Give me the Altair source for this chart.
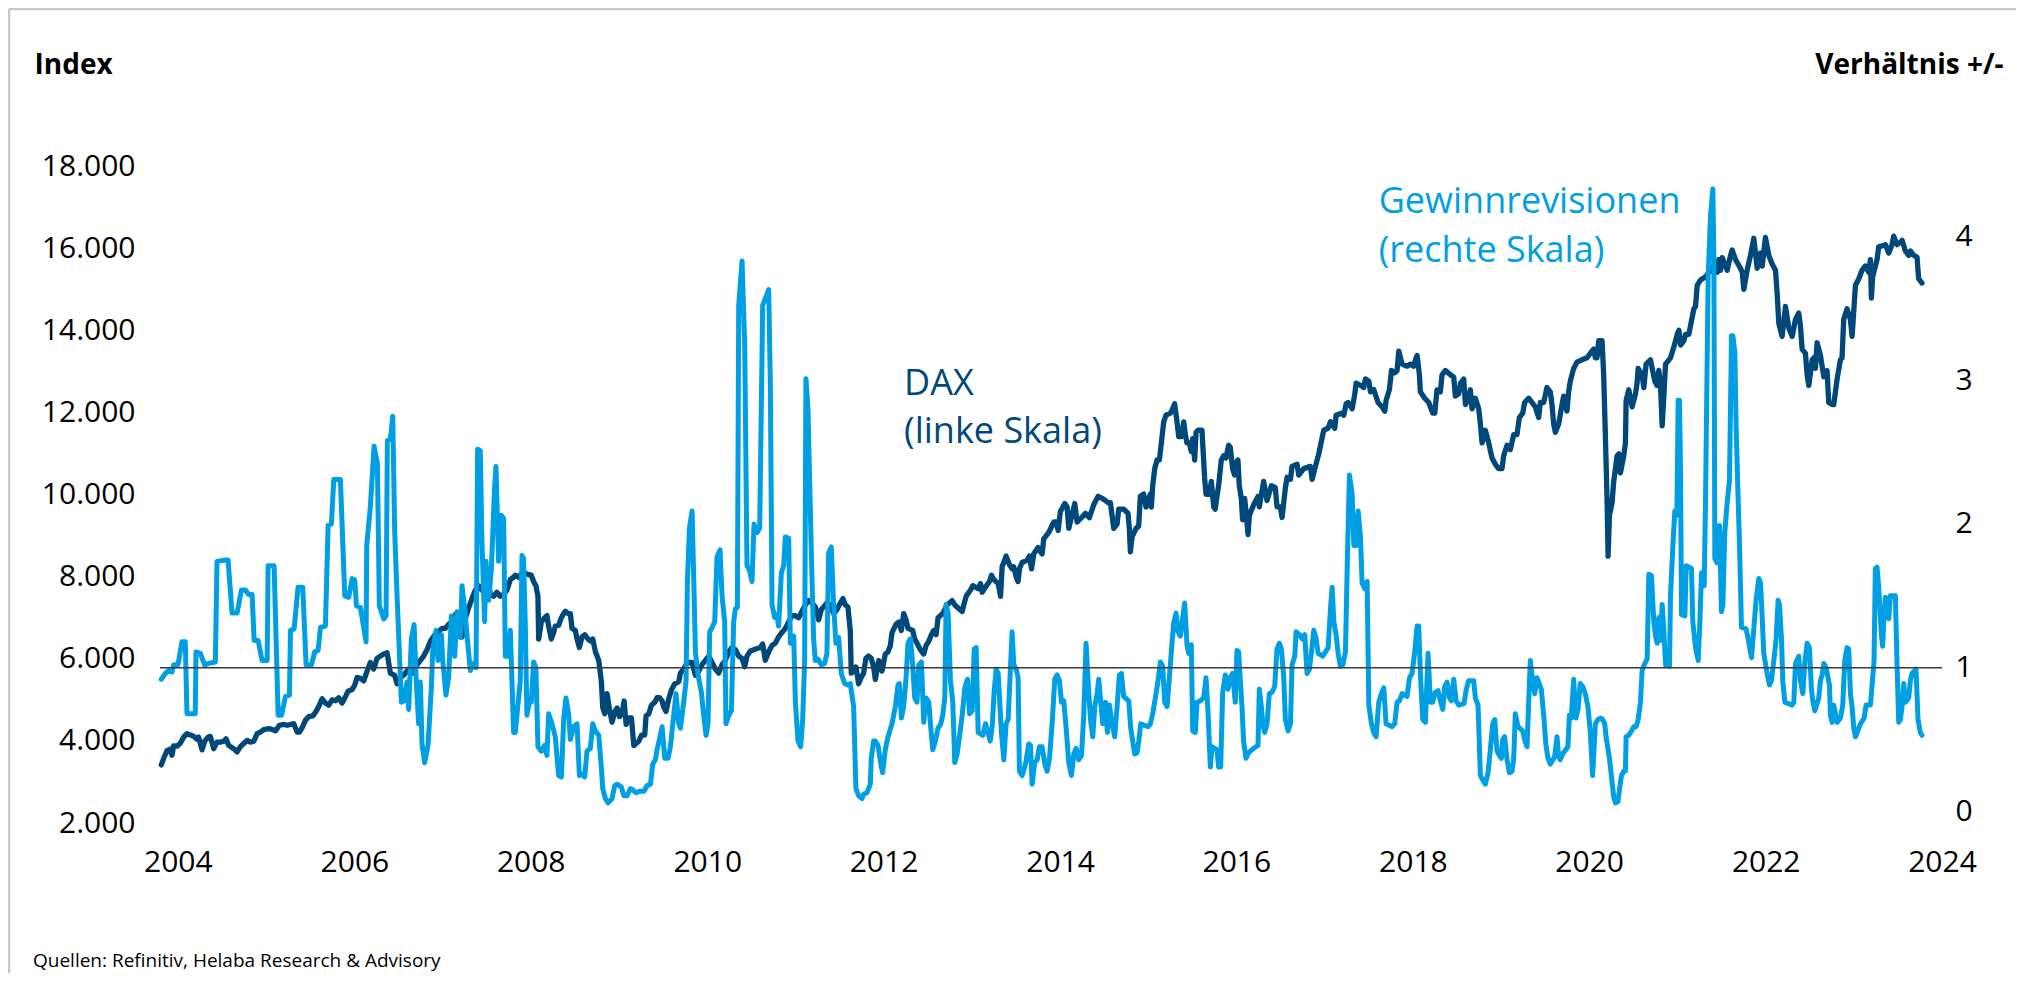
import altair as alt
import pandas as pd
from datetime import datetime, timedelta

FONT = "Open Sans"
DAX_COLOR = "#00477A"
REV_COLOR = "#009FE3"

# ---------------- data (decimal years) ----------------
DAX_T = [
2003.812,2003.838,2003.876,2003.914,2003.933,2003.952,2003.990,2004.027,2004.065,2004.103,2004.141,2004.179,2004.216,2004.235,
2004.273,2004.303,2004.341,2004.367,2004.405,2004.443,2004.481,2004.519,2004.545,2004.575,2004.632,2004.670,2004.708,2004.745,
2004.783,2004.821,2004.859,2004.897,2004.934,2004.972,2005.029,2005.067,2005.104,2005.150,2005.199,2005.237,2005.275,2005.312,
2005.350,2005.377,2005.407,2005.445,2005.482,2005.528,2005.558,2005.596,2005.634,2005.671,2005.709,2005.747,2005.785,2005.822,
2005.860,2005.898,2005.928,2005.974,2006.004,2006.030,2006.068,2006.106,2006.144,2006.181,2006.219,2006.257,2006.295,2006.333,
2006.370,2006.389,2006.408,2006.457,2006.484,2006.522,2006.560,2006.616,2006.654,2006.711,2006.748,2006.786,2006.824,2006.862,
2006.911,2006.956,2006.994,2007.032,2007.070,2007.107,2007.145,2007.183,2007.221,2007.259,2007.296,2007.334,2007.372,2007.410,
2007.447,2007.485,2007.523,2007.542,2007.580,2007.617,2007.655,2007.693,2007.731,2007.769,2007.806,
2007.825,2007.863,2007.901,2007.938,2007.976,2008.006,2008.033,2008.059,2008.082,2008.090,2008.120,2008.158,2008.184,2008.203,
2008.233,2008.260,2008.278,2008.316,2008.347,2008.373,2008.392,2008.422,2008.449,2008.467,2008.505,2008.524,2008.551,2008.581,
2008.611,2008.649,2008.675,2008.702,2008.732,2008.770,2008.800,2008.815,2008.838,2008.864,2008.891,2008.921,2008.951,2008.978,
2009.004,2009.034,2009.057,2009.080,2009.110,2009.140,2009.167,2009.193,2009.223,2009.254,2009.291,2009.306,2009.337,2009.367,
2009.405,2009.431,2009.457,2009.488,2009.507,2009.533,2009.563,2009.594,2009.631,2009.677,2009.696,2009.733,2009.760,2009.790,
2009.828,2009.866,2009.903,2009.941,2009.979,2010.017,2010.055,2010.092,2010.130,2010.168,2010.206,2010.244,2010.281,2010.319,
2010.357,2010.395,2010.425,2010.451,2010.489,2010.527,2010.565,2010.603,2010.629,2010.659,2010.697,2010.735,2010.772,2010.810,
2010.848,2010.886,2010.924,2010.962,2011.000,2011.037,2011.075,2011.113,2011.151,2011.188,2011.226,2011.264,2011.294,2011.321,
2011.358,2011.396,2011.434,2011.472,2011.510,2011.540,2011.566,2011.596,2011.623,2011.634,2011.661,2011.687,2011.717,2011.747,
2011.774,2011.800,2011.830,2011.861,2011.887,
2011.907,2011.945,2011.983,2012.020,2012.051,2012.077,2012.096,2012.141,2012.172,2012.202,2012.228,2012.255,2012.277,2012.330,
2012.353,2012.379,2012.417,2012.455,2012.481,2012.512,2012.542,2012.568,2012.595,2012.617,2012.670,2012.719,2012.776,2012.806,
2012.859,2012.890,2012.908,2012.935,2012.984,2013.010,2013.071,2013.097,2013.116,2013.147,2013.199,2013.222,2013.248,2013.298,
2013.325,2013.343,2013.388,2013.426,2013.456,2013.475,2013.502,2013.524,2013.539,2013.570,2013.627,2013.653,2013.676,2013.702,
2013.751,2013.778,2013.797,2013.815,2013.872,2013.929,2013.955,2013.978,2014.004,2014.054,2014.080,2014.099,2014.145,2014.167,
2014.193,2014.243,2014.288,2014.333,2014.382,2014.431,2014.484,2014.545,2014.571,2014.590,2014.609,2014.647,2014.666,2014.722,
2014.771,2014.786,2014.798,2014.817,2014.862,2014.892,2014.911,2014.949,2014.975,2015.025,2015.036,2015.051,2015.074,2015.100,
2015.127,2015.149,2015.176,2015.202,2015.251,2015.278,2015.300,2015.327,2015.346,2015.376,2015.403,2015.421,2015.440,2015.467,
2015.489,2015.505,2015.527,2015.543,2015.565,2015.591,2015.610,2015.641,2015.656,2015.694,2015.716,2015.743,2015.761,2015.780,
2015.799,2015.829,2015.856,2015.882,2015.912,2015.931,2015.958,2015.980,
2015.988,2016.018,2016.033,2016.056,2016.071,2016.094,2016.109,2016.132,2016.147,2016.196,2016.245,2016.260,2016.309,2016.347,
2016.396,2016.441,2016.460,2016.498,2016.517,2016.555,2016.574,2016.612,2016.630,2016.687,2016.706,2016.763,2016.838,2016.857,
2016.895,2016.933,2016.963,2016.989,2017.039,2017.065,2017.114,2017.129,2017.190,2017.216,2017.243,2017.265,2017.311,2017.341,
2017.356,2017.405,2017.443,2017.462,2017.500,2017.519,2017.556,2017.605,2017.651,2017.681,2017.696,2017.734,2017.757,2017.794,
2017.821,2017.840,2017.878,2017.934,2017.972,2018.010,2018.029,2018.048,2018.074,2018.085,2018.134,2018.180,2018.225,2018.248,
2018.274,2018.312,2018.331,2018.369,2018.426,2018.463,2018.482,2018.520,2018.539,2018.577,2018.596,2018.633,2018.652,2018.671,
2018.709,2018.747,2018.766,2018.785,2018.822,2018.860,2018.898,2018.936,2018.973,2019.011,2019.030,2019.068,2019.106,2019.144,
2019.181,2019.208,2019.246,2019.268,2019.314,2019.351,2019.389,2019.427,2019.446,2019.484,2019.521,2019.559,2019.578,2019.597,
2019.616,2019.654,2019.692,2019.710,2019.748,2019.767,2019.786,2019.824,2019.862,2019.918,2019.975,2020.013,2020.051,
2020.070,2020.089,2020.108,2020.146,2020.164,2020.183,2020.202,2020.214,2020.229,2020.259,2020.278,2020.316,2020.335,2020.353,
2020.391,2020.410,2020.418,2020.448,2020.486,2020.524,2020.542,2020.554,2020.599,2020.618,2020.644,2020.693,2020.743,2020.769,
2020.788,2020.807,2020.826,2020.845,2020.864,2020.920,2020.958,2020.996,2021.015,2021.034,2021.071,2021.090,2021.128,2021.147,
2021.185,2021.204,2021.223,2021.260,2021.317,2021.374,2021.412,2021.449,2021.468,2021.487,2021.506,2021.563,2021.601,2021.619,
2021.657,2021.714,2021.733,2021.752,2021.789,2021.827,2021.865,2021.884,2021.903,2021.941,2021.960,2021.997,2022.035,2022.073,
2022.111,2022.130,2022.149,2022.186,2022.224,2022.262,2022.300,2022.338,2022.375,2022.394,2022.413,2022.451,2022.470,2022.489,
2022.527,2022.545,2022.564,2022.583,2022.621,2022.659,2022.696,2022.715,2022.753,2022.772,2022.810,2022.848,2022.866,2022.885,
2022.923,2022.961,2022.980,2022.999,2023.018,2023.055,2023.093,2023.131,2023.169,2023.188,2023.199,2023.214,2023.263,2023.282,
2023.320,2023.358,2023.396,2023.433,2023.452,2023.490,2023.528,2023.547,2023.585,2023.622,2023.641,2023.679,2023.717,2023.735,
2023.773,
]
DAX_V = [
3415,3570,3760,3800,3650,3880,3870,3940,4090,4175,4145,4110,4040,4090,
3780,3990,4090,4110,3810,3970,3970,3990,4050,3890,3810,3730,3860,3935,
4010,3970,3990,4175,4215,4275,4300,4275,4245,4380,4400,4380,4400,4420,
4215,4215,4320,4505,4590,4610,4695,4840,5025,4920,4870,5000,4975,5050,
4920,5075,5210,5250,5360,5545,5525,5460,5700,5910,5750,6010,6065,6115,
6145,5905,5650,5595,5390,5545,5600,5750,5650,5855,5960,6065,6220,6425,
6580,6665,6740,6740,6840,6895,7080,7120,6530,6980,7240,7465,7670,7775,
7670,7775,7850,7570,7520,7620,7520,7570,7670,7930,7985,
8035,7985,8085,8085,8050,8035,7880,7775,7520,6480,6895,7000,7050,6795,
6480,6640,6795,6815,7000,7100,7155,7100,7100,6740,6690,6480,6275,6535,
6585,6480,6430,6480,6170,5960,5440,4815,4660,5150,4765,4455,4715,4800,
4590,4660,4970,4400,4560,4560,3885,3935,3990,4140,4140,4610,4660,4870,
4940,5055,5055,4975,4820,4715,5025,5235,5390,5440,5650,5750,5855,5910,
5910,5595,5700,5855,5960,6065,5910,5750,5650,5855,5960,6170,6275,6220,
6065,6010,5805,6065,6190,6220,6250,6275,6360,5960,6170,6325,6375,6535,
6640,6740,6895,7050,7050,7000,7155,7310,7415,7360,7260,6950,7200,7260,
7360,7310,7100,7200,7360,7465,7310,7260,6690,5650,5700,5800,5390,5545,
5650,6010,6065,6010,5800,
5495,5955,5700,6115,6165,6320,6635,6840,6895,6690,7100,6945,6740,6690,
6480,6375,6220,6115,6320,6430,6585,6690,6585,7000,7100,7310,7415,7310,
7205,7150,7310,7520,7675,7780,7705,7830,7620,7725,7880,8035,7930,7830,
7520,8240,8500,8290,8190,8240,7985,7880,8190,8345,8400,8500,8190,8555,
8710,8610,8555,8920,9075,9330,9330,9125,9590,9780,9695,9175,9590,9780,
9330,9435,9540,9435,9750,9955,9900,9800,9800,9490,9175,9280,9645,9645,
9540,9175,8605,8970,9175,9230,9960,10010,9695,10010,9695,10215,10630,10840,
10840,11255,11770,11930,11980,12085,12210,11770,11410,11410,11770,11460,11255,11255,
11045,11360,10840,11515,11565,11565,11565,10380,10005,10005,10320,9695,9645,9955,
10215,10840,10940,10890,11200,11150,10630,10475,
10735,10840,10215,9905,9385,9905,9595,9025,9490,9750,9955,9700,10320,9855,
10215,10165,9700,9700,9440,10165,10420,10370,10685,10735,10475,10630,10685,10370,
10685,10995,11305,11565,11615,11775,11615,11930,11980,11930,12210,12240,12085,12450,
12710,12660,12605,12815,12760,12500,12555,12240,12135,12030,12290,12555,13020,12965,
13020,13490,13175,13125,13175,13125,13280,13385,12915,12500,12345,12240,11980,11980,
12550,12500,12915,13020,12915,12860,12395,12450,12705,12810,12190,12345,12550,12085,
12345,12085,11720,11255,11565,11255,10890,10735,10630,10630,10945,11200,11095,11460,
11460,11875,11980,12240,12345,12240,12135,11875,12240,12240,12605,12500,12190,11720,
11515,11720,12185,12395,12030,12500,12760,13070,13225,13280,13330,13435,13540,
13330,13330,13745,13745,12915,11460,9905,8500,9490,9800,10320,10940,10990,10525,
10940,11255,12290,12550,12135,12450,12710,13070,12915,12600,13175,13280,12760,12655,
13020,12655,11670,12400,13175,13330,13590,13900,14000,13640,13745,13900,13900,14110,
14525,14580,15095,15225,15300,15460,15560,15410,15720,15460,15770,15460,15820,15955,
15720,15510,15410,14995,15460,15820,16240,15880,15510,15880,15560,16260,15820,15615,
15460,14890,14160,13850,14580,14055,13850,14265,14420,14110,13540,13435,12915,12655,
13280,13330,13070,13695,13385,12865,13020,12240,12190,12190,12810,13280,13330,14265,
14525,14265,13850,14475,15095,15250,15460,15565,15410,15720,14785,15305,15720,16030,
16055,16085,15880,16085,16290,16085,16140,16190,15930,15825,15930,15825,15775,15255,
15150,
]

REV_T = [
2003.812,2003.857,2003.895,2003.933,2003.952,2004.001,2004.046,2004.084,2004.103,2004.197,2004.205,2004.254,2004.303,2004.349,
2004.424,2004.443,2004.538,2004.568,2004.613,2004.670,2004.719,2004.764,2004.802,2004.840,2004.863,2004.908,2004.953,2005.010,
2005.021,2005.089,2005.135,2005.173,2005.218,2005.263,2005.275,2005.316,2005.361,2005.414,2005.452,2005.513,2005.550,2005.588,
2005.615,2005.671,2005.702,2005.739,2005.766,2005.841,2005.891,2005.936,2005.974,2006.004,2006.023,2006.068,2006.132,2006.140,
2006.181,2006.223,2006.261,2006.283,2006.333,2006.359,2006.374,2006.408,2006.435,2006.457,2006.484,2006.533,2006.560,2006.597,
2006.616,2006.646,2006.677,2006.699,2006.729,2006.748,2006.767,2006.797,2006.835,2006.873,2006.888,2006.926,2006.949,2006.987,
2007.002,2007.039,2007.070,2007.100,2007.138,2007.164,2007.202,2007.221,2007.251,2007.277,2007.315,2007.353,2007.380,2007.398,
2007.428,2007.447,2007.477,2007.493,2007.523,2007.553,2007.591,2007.606,2007.636,2007.666,2007.693,2007.712,2007.742,2007.769,
2007.806,
2007.825,2007.863,2007.882,2007.901,2007.919,2007.938,2007.957,2007.984,2008.006,2008.033,2008.059,2008.082,2008.120,2008.158,
2008.184,2008.203,2008.241,2008.278,2008.316,2008.347,2008.373,2008.399,2008.430,2008.449,2008.486,2008.524,2008.551,2008.581,
2008.611,2008.637,2008.675,2008.702,2008.732,2008.770,2008.800,2008.815,2008.845,2008.876,2008.921,2008.951,2008.978,2009.027,
2009.053,2009.091,2009.129,2009.155,2009.193,2009.231,2009.280,2009.318,2009.356,2009.382,2009.412,2009.431,2009.457,2009.488,
2009.518,2009.556,2009.582,2009.620,2009.646,2009.677,2009.696,2009.733,2009.760,2009.775,2009.798,2009.828,2009.847,2009.866,
2009.896,2009.934,2009.960,2009.987,2010.009,2010.028,2010.055,2010.085,2010.111,2010.145,2010.168,2010.198,2010.213,2010.244,
2010.274,2010.300,2010.319,2010.342,2010.357,2010.395,2010.425,2010.451,2010.478,2010.508,2010.531,2010.565,2010.595,2010.629,
2010.667,2010.697,2010.716,2010.735,2010.765,2010.792,2010.810,2010.841,2010.867,2010.886,2010.924,2010.943,2010.981,2011.000,
2011.030,2011.060,2011.083,2011.105,2011.120,2011.143,2011.181,2011.207,2011.226,2011.256,2011.294,2011.332,2011.358,2011.377,
2011.407,2011.434,2011.460,2011.491,2011.521,2011.559,2011.596,2011.623,2011.661,2011.687,2011.717,2011.755,2011.774,2011.812,
2011.850,2011.861,2011.887,
2011.907,2011.937,2011.975,2011.990,2012.020,2012.051,2012.096,2012.134,2012.164,2012.179,2012.202,2012.228,2012.255,2012.277,
2012.304,2012.323,2012.353,2012.379,2012.398,2012.429,2012.455,2012.481,2012.512,2012.531,2012.557,2012.587,2012.617,2012.648,
2012.670,2012.693,2012.708,2012.731,2012.757,2012.784,2012.806,2012.833,2012.859,2012.890,2012.920,2012.950,2012.973,2013.003,
2013.026,2013.048,2013.071,2013.124,2013.154,2013.184,2013.207,2013.230,2013.252,2013.275,2013.298,2013.313,2013.335,2013.362,
2013.388,2013.411,2013.437,2013.456,2013.475,2013.502,2013.524,2013.539,2013.570,2013.608,2013.645,2013.664,2013.683,2013.713,
2013.740,2013.766,2013.797,2013.827,2013.853,2013.880,2013.910,2013.940,2013.967,2013.993,2014.016,2014.042,2014.069,2014.099,
2014.129,2014.156,2014.182,2014.212,2014.243,2014.269,2014.295,2014.318,2014.345,2014.371,2014.394,2014.420,2014.439,2014.462,
2014.484,2014.515,2014.537,2014.560,2014.590,2014.620,2014.647,2014.673,2014.696,2014.722,2014.779,2014.802,2014.824,2014.847,
2014.874,2014.893,2014.915,2014.998,2015.025,2015.051,2015.081,2015.112,2015.138,2015.165,2015.187,2015.214,2015.240,2015.270,
2015.289,2015.316,2015.338,2015.365,2015.384,2015.414,2015.440,2015.459,2015.489,2015.505,2015.535,2015.554,2015.591,2015.629,
2015.656,2015.678,2015.705,2015.724,2015.780,2015.799,2015.822,2015.845,2015.875,2015.905,2015.931,2015.958,
2015.988,2016.007,2016.026,2016.045,2016.064,2016.082,2016.109,2016.139,2016.196,2016.245,2016.260,2016.283,2016.298,2016.321,
2016.347,2016.373,2016.404,2016.434,2016.460,2016.487,2016.510,2016.536,2016.555,2016.585,2016.612,2016.630,2016.661,2016.676,
2016.714,2016.744,2016.774,2016.800,2016.827,2016.850,2016.876,2016.903,2016.925,2016.978,2017.039,2017.065,2017.084,2017.103,
2017.129,2017.152,2017.178,2017.205,2017.235,2017.258,2017.280,2017.311,2017.330,2017.356,2017.379,2017.405,2017.424,2017.454,
2017.481,2017.500,2017.530,2017.556,2017.583,2017.613,2017.643,2017.670,2017.696,2017.764,2017.794,2017.821,2017.847,2017.878,
2017.934,2017.961,2017.991,2018.021,2018.048,2018.066,2018.085,2018.112,2018.142,2018.172,2018.199,2018.225,2018.255,2018.286,
2018.312,2018.339,2018.361,2018.388,2018.414,2018.437,2018.463,2018.490,2018.520,2018.580,2018.603,2018.633,2018.690,2018.709,
2018.739,2018.766,2018.792,2018.822,2018.853,2018.879,2018.906,2018.928,2018.955,2018.981,2019.004,2019.019,2019.041,2019.068,
2019.094,2019.125,2019.144,2019.162,2019.193,2019.246,2019.268,2019.295,2019.314,2019.332,2019.351,2019.382,2019.408,2019.457,
2019.484,2019.510,2019.533,2019.559,2019.608,2019.635,2019.654,2019.672,2019.699,2019.759,2019.775,2019.797,2019.824,2019.850,
2019.873,2019.899,2019.926,2019.956,2019.986,2020.013,2020.039,
2020.070,2020.100,2020.127,2020.153,2020.176,2020.191,2020.214,2020.229,2020.251,2020.278,2020.297,2020.327,2020.342,2020.365,
2020.391,2020.410,2020.418,2020.448,2020.478,2020.505,2020.531,2020.554,2020.580,2020.599,2020.629,2020.656,2020.675,2020.705,
2020.731,2020.750,2020.769,2020.788,2020.807,2020.826,2020.845,2020.864,2020.909,2020.920,2020.947,2020.969,2020.992,2021.007,
2021.022,2021.034,2021.045,2021.083,2021.098,2021.158,2021.173,2021.204,2021.234,2021.249,2021.272,2021.302,2021.317,2021.347,
2021.374,2021.400,2021.412,2021.423,2021.449,2021.476,2021.498,2021.514,2021.536,2021.563,2021.589,2021.612,2021.627,2021.650,
2021.665,2021.687,2021.703,2021.725,2021.778,2021.801,2021.839,2021.865,2021.891,2021.922,2021.941,2021.960,2021.978,2022.016,
2022.043,2022.065,2022.092,2022.118,2022.141,2022.156,2022.179,2022.194,2022.217,2022.300,2022.319,2022.338,2022.375,2022.394,
2022.421,2022.443,2022.470,2022.496,2022.519,2022.534,2022.557,2022.602,2022.621,2022.640,2022.659,2022.685,2022.723,2022.734,
2022.753,2022.772,2022.810,2022.848,2022.874,2022.897,2022.923,2022.942,2022.961,2022.980,2022.999,2023.018,2023.074,2023.116,
2023.139,2023.188,2023.207,2023.229,2023.244,2023.263,2023.282,2023.301,2023.312,2023.327,2023.339,2023.358,2023.377,2023.396,
2023.414,2023.471,2023.490,2023.509,2023.528,2023.547,2023.566,2023.585,2023.622,2023.641,2023.660,2023.705,2023.728,2023.754,
2023.773,
]
REV_V = [
0.92,0.96,0.98,0.97,1.02,1.02,1.18,1.18,0.68,0.68,1.11,1.10,1.02,1.03,
1.04,1.74,1.75,1.75,1.38,1.38,1.54,1.54,1.51,1.51,1.19,1.19,1.05,1.05,
1.71,1.71,0.67,0.67,0.80,0.81,1.26,1.27,1.56,1.56,1.02,1.02,1.11,1.12,
1.28,1.29,1.99,2.00,2.31,2.31,1.50,1.49,1.62,1.61,1.43,1.42,1.18,1.85,
2.12,2.54,2.42,1.43,1.34,1.36,2.58,2.59,2.75,1.95,1.50,0.76,0.77,0.90,
0.71,1.20,1.30,0.94,0.61,0.90,0.47,0.34,0.46,0.86,1.11,1.26,1.05,1.23,
1.05,0.81,0.94,1.36,1.08,1.39,1.21,1.57,1.41,1.23,0.98,1.03,1.00,2.52,
2.51,1.88,1.32,1.74,1.47,1.68,2.26,2.40,1.74,2.06,2.04,1.08,1.08,1.26,
0.55,
0.55,0.79,0.91,1.78,1.76,1.32,0.67,0.76,0.76,1.04,1.00,0.45,0.42,0.46,
0.39,0.68,0.61,0.52,0.25,0.24,0.64,0.79,0.67,0.50,0.59,0.61,0.25,0.26,
0.24,0.42,0.44,0.61,0.56,0.53,0.30,0.16,0.09,0.06,0.09,0.18,0.19,0.17,
0.11,0.11,0.16,0.15,0.13,0.14,0.14,0.18,0.19,0.33,0.36,0.43,0.50,0.59,
0.37,0.37,0.45,0.67,0.82,0.61,0.58,0.76,0.91,1.59,1.97,2.09,1.62,1.11,
0.95,0.83,0.67,0.53,0.61,1.25,1.28,1.32,1.77,1.82,1.50,1.32,0.61,0.67,
0.70,1.32,1.41,1.42,3.52,3.83,3.25,1.71,1.68,1.60,2.00,1.94,1.97,3.52,
3.58,3.63,2.98,1.44,1.35,1.37,1.29,1.66,1.71,1.91,1.90,1.17,1.22,0.76,
0.49,0.45,0.64,1.05,3.01,2.80,1.80,1.20,1.05,1.06,1.02,1.03,1.10,1.80,
1.84,1.44,1.17,1.21,0.96,0.89,0.88,0.89,0.73,0.16,0.11,0.09,0.12,0.13,
0.19,0.37,0.49,
0.49,0.46,0.31,0.27,0.43,0.52,0.61,0.73,0.88,0.89,0.65,0.73,0.93,1.17,
1.20,1.08,0.79,0.76,1.02,1.04,0.62,0.79,0.76,0.61,0.43,0.49,0.58,0.61,
0.67,0.79,1.44,1.38,0.91,0.76,0.34,0.40,0.52,0.67,0.86,0.92,0.68,0.70,
1.13,1.14,0.55,0.53,0.61,0.55,0.49,0.59,0.83,0.99,0.96,0.79,0.55,0.36,
0.61,0.64,0.99,1.25,1.02,0.99,0.93,0.28,0.25,0.33,0.47,0.46,0.19,0.34,
0.36,0.45,0.45,0.33,0.28,0.37,0.61,0.92,0.95,0.91,0.76,0.77,0.58,0.34,
0.25,0.40,0.44,0.36,0.39,0.67,1.17,0.91,0.64,0.52,0.73,0.82,0.92,0.76,
0.61,0.76,0.55,0.74,0.61,0.52,0.73,0.95,0.96,0.80,0.77,0.58,0.49,0.40,
0.41,0.49,0.61,0.59,0.61,0.68,0.79,0.91,1.04,1.01,0.76,0.73,0.93,1.17,
1.31,1.38,1.25,1.22,1.32,1.45,1.16,1.10,1.16,0.56,0.55,0.76,0.77,0.79,
0.93,0.70,0.31,0.45,0.43,0.31,0.31,0.83,0.95,0.85,0.93,0.96,
0.76,1.12,1.11,0.91,0.73,0.49,0.37,0.41,0.44,0.46,0.85,0.73,0.61,0.55,
0.61,0.82,0.83,0.87,1.13,1.17,1.13,0.93,0.64,0.56,0.61,1.02,1.08,1.25,
1.23,1.20,1.23,0.96,0.99,1.11,1.26,1.20,1.10,1.08,1.14,1.41,1.56,1.32,
1.23,1.10,1.01,1.02,1.11,1.79,2.34,2.21,1.85,1.85,2.09,1.91,1.59,1.55,
1.60,0.74,0.61,0.55,0.52,0.76,0.82,0.86,0.61,0.59,0.61,0.76,0.77,0.82,
0.80,0.93,0.96,1.11,1.29,1.29,0.96,0.64,0.62,1.10,0.76,0.76,0.83,0.84,
0.77,0.71,0.87,0.90,0.79,0.77,0.92,0.77,0.74,0.75,0.84,0.91,0.91,0.79,
0.74,0.25,0.22,0.19,0.27,0.43,0.61,0.64,0.42,0.39,0.37,0.50,0.52,0.36,
0.27,0.28,0.37,0.68,0.59,0.56,0.50,0.45,0.76,1.05,0.95,0.82,0.93,0.85,
0.67,0.46,0.37,0.33,0.38,0.52,0.38,0.36,0.40,0.45,0.67,0.65,0.92,0.65,
0.71,0.89,0.87,0.82,0.73,0.55,0.25,
0.61,0.64,0.65,0.64,0.61,0.52,0.43,0.37,0.25,0.10,0.06,0.07,0.15,0.25,
0.28,0.28,0.52,0.53,0.56,0.59,0.59,0.64,0.76,0.98,1.03,1.06,1.65,1.64,
1.32,1.23,1.17,1.35,1.19,1.44,1.26,1.02,1.01,1.50,1.85,2.09,2.06,2.86,
2.86,2.33,1.37,1.36,1.71,1.69,1.32,1.14,1.05,1.25,1.66,1.57,2.15,3.72,
4.14,4.33,3.86,1.76,1.73,1.99,1.39,1.44,1.94,2.15,2.30,3.31,3.31,3.19,
2.66,2.18,1.85,1.28,1.27,1.20,1.07,1.27,1.47,1.62,1.59,1.35,1.10,0.96,
0.88,0.91,1.05,1.20,1.47,1.44,1.20,0.91,0.76,0.74,0.76,1.03,1.08,0.91,
0.82,1.03,1.17,1.14,0.85,0.77,0.70,0.79,0.91,0.95,1.03,1.00,0.88,0.67,
0.62,0.74,0.62,0.65,0.74,1.05,1.14,1.13,0.82,0.73,0.58,0.52,0.61,0.65,
0.74,0.74,0.88,1.05,1.69,1.70,1.56,1.35,1.23,1.15,1.32,1.49,1.45,1.34,
1.50,1.50,1.02,0.62,0.64,0.73,0.89,0.76,0.79,0.91,0.96,0.99,0.64,0.55,
0.53,
]

X_TICKS = [2004, 2006, 2008, 2010, 2012, 2014, 2016, 2018, 2020, 2022, 2024]
LEFT_TICKS = [2000, 4000, 6000, 8000, 10000, 12000, 14000, 16000, 18000]
RIGHT_TICKS = [0, 1, 2, 3, 4]
REF_LEVEL = [1]

DAX_LABELS = ["DAX", "(linke Skala)"]
DAX_LABEL_T = [2012.232, 2012.232]
DAX_LABEL_Y = [12420, 11255]
REV_LABELS = ["Gewinnrevisionen", "(rechte Skala)"]
REV_LABEL_T = [2017.612, 2017.612]
REV_LABEL_Y = [4.16, 3.82]

SOURCE = ["Quellen: Refinitiv, Helaba Research & Advisory"]


def to_date(t):
    y = int(t)
    start = datetime(y, 1, 1)
    days = (datetime(y + 1, 1, 1) - start).days
    return start + timedelta(days=(t - y) * days)


dax_df = pd.DataFrame({"date": [to_date(t) for t in DAX_T], "dax": DAX_V})
rev_df = pd.DataFrame({"date": [to_date(t) for t in REV_T], "ratio": REV_V})
ref_df = pd.DataFrame({"ratio": REF_LEVEL})
dax_lab = pd.DataFrame({"date": [to_date(t) for t in DAX_LABEL_T], "dax": DAX_LABEL_Y, "label": DAX_LABELS})
rev_lab = pd.DataFrame({"date": [to_date(t) for t in REV_LABEL_T], "ratio": REV_LABEL_Y, "label": REV_LABELS})
src_df = pd.DataFrame({"note": SOURCE})
frame_df = pd.DataFrame({"k": [0]})

x_scale = alt.Scale(domain=[alt.DateTime(year=2003, month=10, date=19),
                            alt.DateTime(year=2024, month=1, date=1)])
x_axis = alt.Axis(values=[alt.DateTime(year=y, month=1, date=1) for y in X_TICKS],
                  format="%Y", labelFont=FONT, labelFontSize=30, labelColor="#000000",
                  labelPadding=48, labelBaseline="alphabetic", labelFlush=False,
                  labelOverlap=False, ticks=False, tickSize=0, domain=False, grid=False,
                  title=None)
X = alt.X("date:T", scale=x_scale, axis=x_axis)

left_scale = alt.Scale(domain=[2000, 18000], nice=False, zero=False)
left_axis = alt.Axis(values=LEFT_TICKS, orient="left",
                     labelExpr="replace(format(datum.value, ',d'), ',', '.')",
                     labelFont=FONT, labelFontSize=30, labelColor="#000000", labelPadding=25,
                     labelOverlap=False, ticks=False, tickSize=0, domain=False, grid=False,
                     title="Index", titleAngle=0, titleAlign="left", titleBaseline="alphabetic",
                     titleX=-126, titleY=-93, titleFont=FONT, titleFontSize=28,
                     titleFontWeight="bold", titleColor="#000000")

right_scale = alt.Scale(domain=[-0.08, 4.49], nice=False, zero=False)
right_axis = alt.Axis(values=RIGHT_TICKS, orient="right", format="d",
                      labelFont=FONT, labelFontSize=30, labelColor="#000000", labelPadding=13,
                      labelOverlap=False, ticks=False, tickSize=0, domain=False, grid=False,
                      title="Verhältnis +/-", titleAngle=0, titleAlign="right",
                      titleBaseline="alphabetic", titleX=61, titleY=-93, titleFont=FONT,
                      titleFontSize=28, titleFontWeight="bold", titleColor="#000000")

dax_line = alt.Chart(dax_df).mark_line(
    color=DAX_COLOR, strokeWidth=5.3, strokeJoin="round", strokeCap="round"
).encode(x=X, y=alt.Y("dax:Q", scale=left_scale, axis=left_axis))

dax_text = alt.Chart(dax_lab).mark_text(
    align="left", baseline="alphabetic", font=FONT, fontSize=36, color=DAX_COLOR
).encode(x=X, y=alt.Y("dax:Q", scale=left_scale, axis=left_axis), text="label:N")

rev_line = alt.Chart(rev_df).mark_line(
    color=REV_COLOR, strokeWidth=5.0, strokeJoin="round", strokeCap="round"
).encode(x=X, y=alt.Y("ratio:Q", scale=right_scale, axis=right_axis))

ref_rule = alt.Chart(ref_df).mark_rule(color="#3a3a3a", strokeWidth=1.3).encode(
    y=alt.Y("ratio:Q", scale=right_scale, axis=right_axis))

rev_text = alt.Chart(rev_lab).mark_text(
    align="left", baseline="alphabetic", font=FONT, fontSize=36, color=REV_COLOR
).encode(x=X, y=alt.Y("ratio:Q", scale=right_scale, axis=right_axis), text="label:N")

left_layer = alt.layer(dax_line, dax_text)
right_layer = alt.layer(rev_line, ref_rule, rev_text)

# decorations: source note and the light frame of the figure
source = alt.Chart(src_df).mark_text(
    align="left", baseline="alphabetic", font=FONT, fontSize=19, color="#000000"
).encode(x=alt.value(-127), y=alt.value(801), text="note:N")

frame_left = alt.Chart(frame_df).mark_rule(color="#c8c8c8", strokeWidth=2.5).encode(
    x=alt.value(-151), y=alt.value(-157), y2=alt.value(820))
frame_top = alt.Chart(frame_df).mark_rule(color="#c8c8c8", strokeWidth=2.5).encode(
    x=alt.value(-151), x2=alt.value(1880), y=alt.value(-157))

chart = alt.layer(left_layer, right_layer, source, frame_left, frame_top).resolve_scale(
    y="independent"
).properties(
    width=1782, height=657,
    padding={"left": 152, "top": 158, "right": 74, "bottom": 150},
    autosize=alt.AutoSizeParams(type="none"),
    background="white",
).configure_view(stroke=None)

chart.save("out.html", embed_options={"renderer": "svg", "actions": False})
